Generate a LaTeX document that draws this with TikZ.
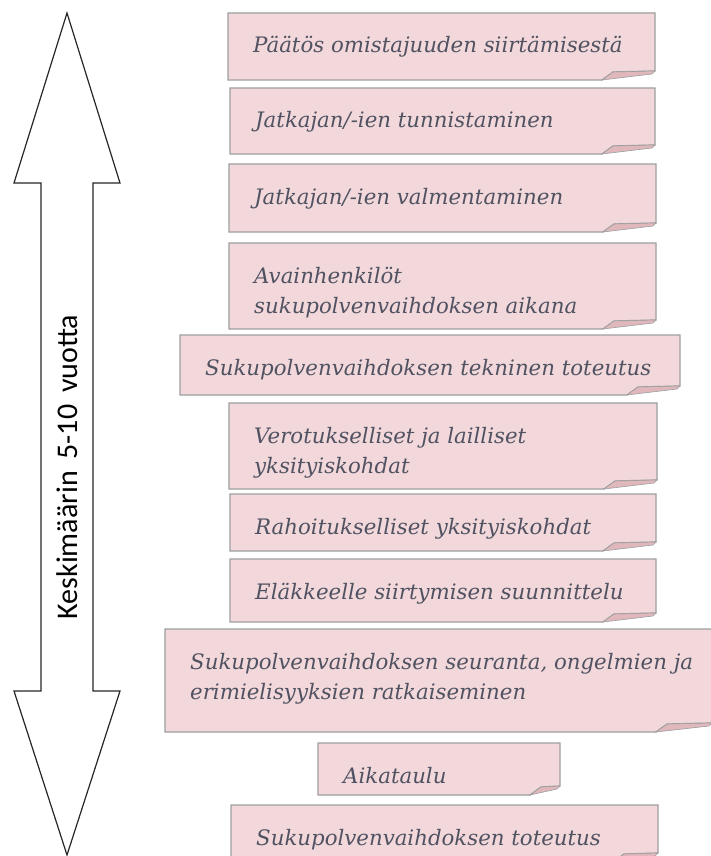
\documentclass[tikz,border=0pt]{standalone}
\usepackage{fontspec}
\setmainfont{DejaVu Serif}
\newfontfamily\arrowfont{Carlito}
\usetikzlibrary{calc}
\definecolor{boxpink}{RGB}{242,216,218}
\definecolor{flappink}{RGB}{224,184,188}
\definecolor{boxline}{RGB}{158,158,160}
\definecolor{textcol}{RGB}{80,82,98}

% lines stacked with the first line as baseline
\newcommand\notelines[1]{\begin{tabular}[t]{@{}l@{}}#1\end{tabular}}

% folded-corner note: #1 name, #2 left, #3 top, #4 right, #5 bottom, #6 fold width, #7 text
\newcommand\foldnote[7]{%
  \node[notebox, minimum width={(#4-#2)*1pt}, minimum height={(#5-#3)*1pt}]
    (#1) at (#2,#3) {};
  \filldraw[notefill]
    (#1.north west) -- (#1.north east) -- ($(#1.south east)+(0,-9)$)
    -- ($(#1.south east)+({11-#6},-8)$) -- ($(#1.south east)+({-#6},0)$)
    -- (#1.south west) -- cycle;
  \filldraw[flapfill]
    ($(#1.south east)+({-#6},0)$) -- ($(#1.south east)+({11-#6},-8)$)
    -- ($(#1.south east)+(0,-9)$) -- ($(#1.south east)+(-3,-6)$) -- cycle;
  \begin{scope}
    \clip (#1.north west) rectangle (#1.south east);
    \node[notetext] (#1t) at ($(#1.north west)+(25,40)$) {\notelines{#7}};
  \end{scope}
}

\begin{document}
\begin{tikzpicture}[x=1pt,y=-1pt,
  notebox/.style={anchor=north west, inner sep=0pt, outer sep=0pt, draw=none},
  notefill/.style={fill=boxpink, draw=boxline, line width=1.3pt, line join=miter},
  flapfill/.style={fill=flappink, draw=boxline, line width=0.6pt},
  notetext/.style={anchor=base west, inner sep=0pt, text=textcol,
    font=\fontsize{21.3}{30}\selectfont\itshape},
  bigarrow/.style={draw=black!85, line width=1.2pt, fill=white, line join=miter},
  arrowlabel/.style={font=\arrowfont\fontsize{30}{36}\selectfont, text=black,
    rotate=90, anchor=base, inner sep=0pt}]
\useasboundingbox (0,0) rectangle (710,856);

% two-headed time arrow
\draw[bigarrow] (67,13) -- (120,183) -- (93,183) -- (93,691) -- (120,691)
  -- (67,855) -- (14,691) -- (41,691) -- (41,183) -- (14,183) -- cycle;
\node[arrowlabel] (span) at (77,467) {Keskimäärin\, 5-10\, vuotta};

% steps of the handover
\foldnote{s1}{228}{13}{655}{80}{53}{Päätös omistajuuden siirtämisestä}
\foldnote{s2}{230}{88}{655}{154}{53}{Jatkajan/-ien tunnistaminen}
\foldnote{s3}{229}{164}{656}{232}{53}{Jatkajan/-ien valmentaminen}
\foldnote{s4}{229}{243}{656}{329}{53}{Avainhenkilöt\\sukupolvenvaihdoksen aikana}
\foldnote{s5}{180}{335}{680}{395}{53}{Sukupolvenvaihdoksen tekninen toteutus}
\foldnote{s6}{229}{403}{657}{489}{53}{Verotukselliset ja lailliset\\yksityiskohdat}
\foldnote{s7}{230}{494}{656}{551}{53}{Rahoitukselliset yksityiskohdat}
\foldnote{s8}{230}{559}{656}{622}{53}{Eläkkeelle siirtymisen suunnittelu}
\foldnote{s9}{165}{629}{712}{732}{56}{Sukupolvenvaihdoksen seuranta, ongelmien ja\\erimielisyyksien ratkaiseminen}
\foldnote{s10}{318}{743}{560}{795}{30}{Aikataulu}
\foldnote{s11}{231}{805}{658}{862}{45}{Sukupolvenvaihdoksen toteutus}
\end{tikzpicture}
\end{document}
